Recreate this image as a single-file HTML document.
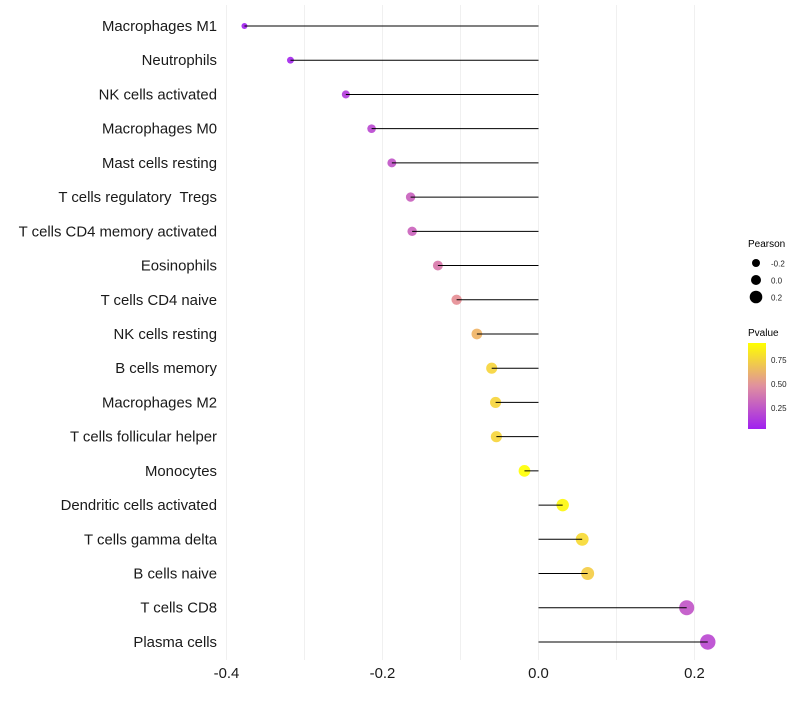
<!DOCTYPE html>
<html><head><meta charset="utf-8"><style>
body{margin:0;background:#fff;font-family:"Liberation Sans",sans-serif}
svg text{font-family:"Liberation Sans",sans-serif;white-space:pre}
</style></head><body>
<svg id="chart" width="800" height="700" xmlns="http://www.w3.org/2000/svg">
<g id="grid"></g>
<g id="marks"></g>
<g id="ylab"></g>
<g id="xlab"></g>
<g>
<text x="748" y="247" font-size="10" fill="#000">Pearson</text>
<circle cx="756" cy="263" r="4" fill="#000"/>
<text x="771" y="266.5" font-size="8" fill="#222">-0.2</text>
<circle cx="756" cy="280" r="5" fill="#000"/>
<text x="771" y="283.5" font-size="8" fill="#222">0.0</text>
<circle cx="756" cy="297" r="6.3" fill="#000"/>
<text x="771" y="300.5" font-size="8" fill="#222">0.2</text>
</g>
<g>
<defs><linearGradient id="pg" x1="0" y1="1" x2="0" y2="0">
<stop offset="0" stop-color="#a020f0"/><stop offset="0.5" stop-color="#e0909f"/><stop offset="1" stop-color="#ffff00"/></linearGradient></defs>
<text x="748" y="336" font-size="10" fill="#000">Pvalue</text>
<rect x="748" y="343" width="18" height="86" fill="url(#pg)"/>
<text x="771" y="363" font-size="8" fill="#222">0.75</text>
<text x="771" y="387" font-size="8" fill="#222">0.50</text>
<text x="771" y="411" font-size="8" fill="#222">0.25</text>
</g>
</svg>
<script>
const cells=["Macrophages M1","Neutrophils","NK cells activated","Macrophages M0","Mast cells resting","T cells regulatory  Tregs","T cells CD4 memory activated","Eosinophils","T cells CD4 naive","NK cells resting","B cells memory","Macrophages M2","T cells follicular helper","Monocytes","Dendritic cells activated","T cells gamma delta","B cells naive","T cells CD8","Plasma cells"];
const pearson=[-0.377,-0.318,-0.247,-0.214,-0.188,-0.164,-0.162,-0.129,-0.105,-0.079,-0.060,-0.055,-0.054,-0.018,0.031,0.056,0.063,0.190,0.217];
const pvalue=[0.03,0.06,0.15,0.2,0.25,0.3,0.31,0.4,0.5,0.65,0.78,0.78,0.78,0.97,0.92,0.8,0.75,0.25,0.2];
const xTicks=[-0.4,-0.2,0.0,0.2];
const xTickLabels=["-0.4","-0.2","0.0","0.2"];
const gridVals=[-0.4,-0.3,-0.2,-0.1,0,0.1,0.2];
const NS="http://www.w3.org/2000/svg";
const x=v=>538.5+v*780;
const y=i=>26+i*34.22;
const rad=v=>Math.max(1.5,6+8*v);
function lerp(a,b,t){return a.map((c,k)=>Math.round(c+(b[k]-c)*t));}
function col(p){const t=Math.max(0,Math.min(1,(p-0.04)/0.91));
 const lo=[160,32,240],mid=[230,140,150],hi=[255,255,0];
 const c=t<0.5?lerp(lo,mid,t*2):lerp(mid,hi,(t-0.5)*2);return `rgb(${c.join(',')})`;}
function mk(tag,attrs,parent){const e=document.createElementNS(NS,tag);for(const k in attrs)e.setAttribute(k,attrs[k]);parent.appendChild(e);return e;}
const grid=document.getElementById('grid'),marks=document.getElementById('marks'),ylab=document.getElementById('ylab'),xlab=document.getElementById('xlab');
gridVals.forEach(v=>{const l=mk('line',{x1:x(v),x2:x(v),y1:5,y2:660,stroke:'#f0f0f0','stroke-width':1},grid);

});
cells.forEach((c,i)=>{
 const cy=y(i);
 const pt=mk('circle',{cx:x(pearson[i]),cy:cy,r:rad(pearson[i]),fill:col(pvalue[i]),'fill-opacity':0.9},marks);
 
 
 const ln=mk('line',{x1:x(0),x2:x(pearson[i]),y1:cy,y2:cy,stroke:'#000','stroke-width':1},marks);
 
 
 const t=mk('text',{x:217,y:cy+5,'text-anchor':'end','font-size':14.9,fill:'#1a1a1a'},ylab);
 t.textContent=c;
 
 
});
xTicks.forEach((v,k)=>{const t=mk('text',{x:x(v),y:678,'text-anchor':'middle','font-size':14.9,fill:'#1a1a1a'},xlab);
t.textContent=xTickLabels[k];

});
</script>
</body></html>
